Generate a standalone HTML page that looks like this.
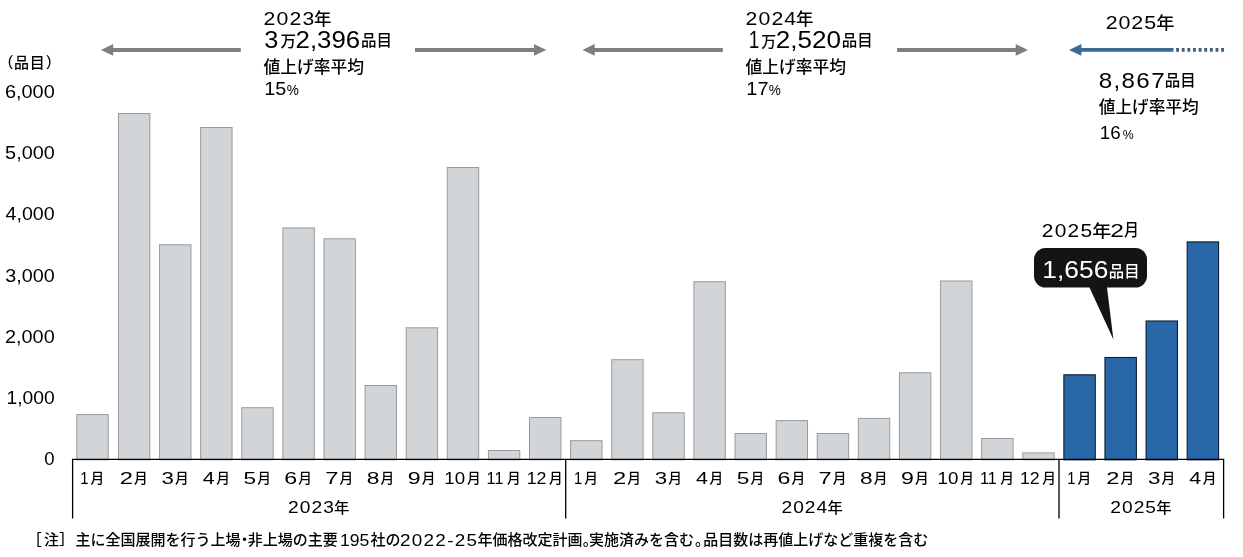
<!DOCTYPE html>
<html lang="ja"><head><meta charset="utf-8"><title>食品値上げ品目数</title>
<style>
html,body{margin:0;padding:0;background:#fff}
body{width:1243px;height:557px;overflow:hidden;font-family:'Liberation Sans','Noto Sans CJK JP',sans-serif}
svg{display:block}
text{white-space:pre}
</style></head><body>
<svg width="1243" height="557" viewBox="0 0 1243 557">
<rect width="1243" height="557" fill="#fff"/>
<rect x="76.80" y="414.60" width="31.40" height="45.25" fill="#d2d5d8" stroke="#97999c" stroke-width="1"/>
<rect x="118.45" y="113.50" width="31.40" height="346.35" fill="#d2d5d8" stroke="#97999c" stroke-width="1"/>
<rect x="159.56" y="244.80" width="31.40" height="215.05" fill="#d2d5d8" stroke="#97999c" stroke-width="1"/>
<rect x="200.66" y="127.50" width="31.40" height="332.35" fill="#d2d5d8" stroke="#97999c" stroke-width="1"/>
<rect x="241.77" y="407.70" width="31.40" height="52.15" fill="#d2d5d8" stroke="#97999c" stroke-width="1"/>
<rect x="282.88" y="227.90" width="31.40" height="231.95" fill="#d2d5d8" stroke="#97999c" stroke-width="1"/>
<rect x="323.98" y="238.80" width="31.40" height="221.05" fill="#d2d5d8" stroke="#97999c" stroke-width="1"/>
<rect x="365.08" y="385.50" width="31.40" height="74.35" fill="#d2d5d8" stroke="#97999c" stroke-width="1"/>
<rect x="406.19" y="327.80" width="31.40" height="132.05" fill="#d2d5d8" stroke="#97999c" stroke-width="1"/>
<rect x="447.29" y="167.50" width="31.40" height="292.35" fill="#d2d5d8" stroke="#97999c" stroke-width="1"/>
<rect x="488.40" y="450.50" width="31.40" height="9.35" fill="#d2d5d8" stroke="#97999c" stroke-width="1"/>
<rect x="529.50" y="417.50" width="31.40" height="42.35" fill="#d2d5d8" stroke="#97999c" stroke-width="1"/>
<rect x="570.61" y="440.70" width="31.40" height="19.15" fill="#d2d5d8" stroke="#97999c" stroke-width="1"/>
<rect x="611.72" y="359.70" width="31.40" height="100.15" fill="#d2d5d8" stroke="#97999c" stroke-width="1"/>
<rect x="652.82" y="412.80" width="31.40" height="47.05" fill="#d2d5d8" stroke="#97999c" stroke-width="1"/>
<rect x="693.92" y="281.70" width="31.40" height="178.15" fill="#d2d5d8" stroke="#97999c" stroke-width="1"/>
<rect x="735.03" y="433.50" width="31.40" height="26.35" fill="#d2d5d8" stroke="#97999c" stroke-width="1"/>
<rect x="776.13" y="420.60" width="31.40" height="39.25" fill="#d2d5d8" stroke="#97999c" stroke-width="1"/>
<rect x="817.24" y="433.50" width="31.40" height="26.35" fill="#d2d5d8" stroke="#97999c" stroke-width="1"/>
<rect x="858.34" y="418.40" width="31.40" height="41.45" fill="#d2d5d8" stroke="#97999c" stroke-width="1"/>
<rect x="899.45" y="372.80" width="31.40" height="87.05" fill="#d2d5d8" stroke="#97999c" stroke-width="1"/>
<rect x="940.55" y="281.00" width="31.40" height="178.85" fill="#d2d5d8" stroke="#97999c" stroke-width="1"/>
<rect x="981.66" y="438.50" width="31.40" height="21.35" fill="#d2d5d8" stroke="#97999c" stroke-width="1"/>
<rect x="1022.76" y="452.90" width="31.40" height="6.95" fill="#d2d5d8" stroke="#97999c" stroke-width="1"/>
<rect x="1063.87" y="374.80" width="31.40" height="85.05" fill="#2968a8" stroke="#0d1c30" stroke-width="1.1"/>
<rect x="1104.97" y="357.50" width="31.40" height="102.35" fill="#2968a8" stroke="#0d1c30" stroke-width="1.1"/>
<rect x="1146.08" y="321.00" width="31.40" height="138.85" fill="#2968a8" stroke="#0d1c30" stroke-width="1.1"/>
<rect x="1187.18" y="241.90" width="31.40" height="217.95" fill="#2968a8" stroke="#0d1c30" stroke-width="1.1"/>
<path d="M72.6 518.5V459.35H1223.6V518.5M565.7 459.35V518.5M1059 459.35V518.5" fill="none" stroke="#000" stroke-width="1.3"/>
<text transform="matrix(1.1059 0 0 1 4.90 97.60)" font-size="18.00" fill="#000" font-family="'Liberation Sans','Noto Sans CJK JP',sans-serif" font-weight="normal">6,000</text>
<text transform="matrix(1.1014 0 0 1 5.11 158.90)" font-size="18.00" fill="#000" font-family="'Liberation Sans','Noto Sans CJK JP',sans-serif" font-weight="normal">5,000</text>
<text transform="matrix(1.0924 0 0 1 5.51 220.20)" font-size="18.00" fill="#000" font-family="'Liberation Sans','Noto Sans CJK JP',sans-serif" font-weight="normal">4,000</text>
<text transform="matrix(1.0968 0 0 1 5.31 281.50)" font-size="18.00" fill="#000" font-family="'Liberation Sans','Noto Sans CJK JP',sans-serif" font-weight="normal">3,000</text>
<text transform="matrix(1.1059 0 0 1 4.90 342.80)" font-size="18.00" fill="#000" font-family="'Liberation Sans','Noto Sans CJK JP',sans-serif" font-weight="normal">2,000</text>
<text transform="matrix(1.0711 0 0 1 6.45 404.10)" font-size="18.00" fill="#000" font-family="'Liberation Sans','Noto Sans CJK JP',sans-serif" font-weight="normal">1,000</text>
<text transform="matrix(1.0317 0 0 1 44.34 465.40)" font-size="18.00" fill="#000" font-family="'Liberation Sans','Noto Sans CJK JP',sans-serif" font-weight="normal">0</text>
<text y="67.60" font-size="15.0" fill="#000" font-weight="500" font-family="'Liberation Sans','Noto Sans CJK JP',sans-serif"><tspan x="-1.60">（</tspan><tspan x="14.05">品</tspan><tspan x="29.75">目</tspan><tspan x="45.70">）</tspan></text>
<text transform="matrix(0.8566 0 0 1 80.22 484.10)" font-size="17.25" fill="#000" font-family="'Liberation Sans','Noto Sans CJK JP',sans-serif" font-weight="normal">1</text>
<text transform="matrix(0.9867 0 0 1 90.38 482.91)" font-size="13.89" fill="#000" font-family="'Liberation Sans','Noto Sans CJK JP',sans-serif" font-weight="500">月</text>
<text transform="matrix(1.3939 0 0 1 119.82 484.10)" font-size="17.00" fill="#000" font-family="'Liberation Sans','Noto Sans CJK JP',sans-serif" font-weight="normal">2</text>
<text transform="matrix(0.9867 0 0 1 133.93 482.91)" font-size="13.89" fill="#000" font-family="'Liberation Sans','Noto Sans CJK JP',sans-serif" font-weight="500">月</text>
<text transform="matrix(1.3085 0 0 1 161.44 484.10)" font-size="17.00" fill="#000" font-family="'Liberation Sans','Noto Sans CJK JP',sans-serif" font-weight="normal">3</text>
<text transform="matrix(0.9867 0 0 1 175.04 482.91)" font-size="13.89" fill="#000" font-family="'Liberation Sans','Noto Sans CJK JP',sans-serif" font-weight="500">月</text>
<text transform="matrix(1.2572 0 0 1 202.79 484.10)" font-size="17.00" fill="#000" font-family="'Liberation Sans','Noto Sans CJK JP',sans-serif" font-weight="normal">4</text>
<text transform="matrix(0.9867 0 0 1 216.14 482.91)" font-size="13.89" fill="#000" font-family="'Liberation Sans','Noto Sans CJK JP',sans-serif" font-weight="500">月</text>
<text transform="matrix(1.3167 0 0 1 243.41 484.10)" font-size="17.25" fill="#000" font-family="'Liberation Sans','Noto Sans CJK JP',sans-serif" font-weight="normal">5</text>
<text transform="matrix(0.9867 0 0 1 257.25 482.91)" font-size="13.89" fill="#000" font-family="'Liberation Sans','Noto Sans CJK JP',sans-serif" font-weight="500">月</text>
<text transform="matrix(1.3642 0 0 1 284.27 484.10)" font-size="17.00" fill="#000" font-family="'Liberation Sans','Noto Sans CJK JP',sans-serif" font-weight="normal">6</text>
<text transform="matrix(0.9867 0 0 1 298.35 482.91)" font-size="13.89" fill="#000" font-family="'Liberation Sans','Noto Sans CJK JP',sans-serif" font-weight="500">月</text>
<text transform="matrix(1.3939 0 0 1 325.35 484.10)" font-size="17.00" fill="#000" font-family="'Liberation Sans','Noto Sans CJK JP',sans-serif" font-weight="normal">7</text>
<text transform="matrix(0.9867 0 0 1 339.46 482.91)" font-size="13.89" fill="#000" font-family="'Liberation Sans','Noto Sans CJK JP',sans-serif" font-weight="500">月</text>
<text transform="matrix(1.3358 0 0 1 366.73 484.10)" font-size="17.00" fill="#000" font-family="'Liberation Sans','Noto Sans CJK JP',sans-serif" font-weight="normal">8</text>
<text transform="matrix(0.9867 0 0 1 380.56 482.91)" font-size="13.89" fill="#000" font-family="'Liberation Sans','Noto Sans CJK JP',sans-serif" font-weight="500">月</text>
<text transform="matrix(1.3642 0 0 1 407.81 484.10)" font-size="17.00" fill="#000" font-family="'Liberation Sans','Noto Sans CJK JP',sans-serif" font-weight="normal">9</text>
<text transform="matrix(0.9867 0 0 1 421.67 482.91)" font-size="13.89" fill="#000" font-family="'Liberation Sans','Noto Sans CJK JP',sans-serif" font-weight="500">月</text>
<text transform="matrix(1.0991 0 0 1 444.34 484.10)" font-size="17.00" fill="#000" font-family="'Liberation Sans','Noto Sans CJK JP',sans-serif" font-weight="normal">10</text>
<text transform="matrix(0.9867 0 0 1 466.97 482.91)" font-size="13.89" fill="#000" font-family="'Liberation Sans','Noto Sans CJK JP',sans-serif" font-weight="500">月</text>
<text transform="matrix(0.9371 0 0 1 486.62 484.10)" font-size="17.25" fill="#000" font-family="'Liberation Sans','Noto Sans CJK JP',sans-serif" font-weight="normal">11</text>
<text transform="matrix(0.9867 0 0 1 507.08 482.91)" font-size="13.89" fill="#000" font-family="'Liberation Sans','Noto Sans CJK JP',sans-serif" font-weight="500">月</text>
<text transform="matrix(1.0452 0 0 1 526.71 484.10)" font-size="17.00" fill="#000" font-family="'Liberation Sans','Noto Sans CJK JP',sans-serif" font-weight="normal">12</text>
<text transform="matrix(0.9867 0 0 1 549.08 482.91)" font-size="13.89" fill="#000" font-family="'Liberation Sans','Noto Sans CJK JP',sans-serif" font-weight="500">月</text>
<text transform="matrix(0.8566 0 0 1 574.03 484.10)" font-size="17.25" fill="#000" font-family="'Liberation Sans','Noto Sans CJK JP',sans-serif" font-weight="normal">1</text>
<text transform="matrix(0.9867 0 0 1 584.19 482.91)" font-size="13.89" fill="#000" font-family="'Liberation Sans','Noto Sans CJK JP',sans-serif" font-weight="500">月</text>
<text transform="matrix(1.3939 0 0 1 613.08 484.10)" font-size="17.00" fill="#000" font-family="'Liberation Sans','Noto Sans CJK JP',sans-serif" font-weight="normal">2</text>
<text transform="matrix(0.9867 0 0 1 627.19 482.91)" font-size="13.89" fill="#000" font-family="'Liberation Sans','Noto Sans CJK JP',sans-serif" font-weight="500">月</text>
<text transform="matrix(1.3085 0 0 1 654.70 484.10)" font-size="17.00" fill="#000" font-family="'Liberation Sans','Noto Sans CJK JP',sans-serif" font-weight="normal">3</text>
<text transform="matrix(0.9867 0 0 1 668.30 482.91)" font-size="13.89" fill="#000" font-family="'Liberation Sans','Noto Sans CJK JP',sans-serif" font-weight="500">月</text>
<text transform="matrix(1.2572 0 0 1 696.05 484.10)" font-size="17.00" fill="#000" font-family="'Liberation Sans','Noto Sans CJK JP',sans-serif" font-weight="normal">4</text>
<text transform="matrix(0.9867 0 0 1 709.40 482.91)" font-size="13.89" fill="#000" font-family="'Liberation Sans','Noto Sans CJK JP',sans-serif" font-weight="500">月</text>
<text transform="matrix(1.3167 0 0 1 736.67 484.10)" font-size="17.25" fill="#000" font-family="'Liberation Sans','Noto Sans CJK JP',sans-serif" font-weight="normal">5</text>
<text transform="matrix(0.9867 0 0 1 750.51 482.91)" font-size="13.89" fill="#000" font-family="'Liberation Sans','Noto Sans CJK JP',sans-serif" font-weight="500">月</text>
<text transform="matrix(1.3642 0 0 1 777.53 484.10)" font-size="17.00" fill="#000" font-family="'Liberation Sans','Noto Sans CJK JP',sans-serif" font-weight="normal">6</text>
<text transform="matrix(0.9867 0 0 1 791.61 482.91)" font-size="13.89" fill="#000" font-family="'Liberation Sans','Noto Sans CJK JP',sans-serif" font-weight="500">月</text>
<text transform="matrix(1.3939 0 0 1 818.61 484.10)" font-size="17.00" fill="#000" font-family="'Liberation Sans','Noto Sans CJK JP',sans-serif" font-weight="normal">7</text>
<text transform="matrix(0.9867 0 0 1 832.72 482.91)" font-size="13.89" fill="#000" font-family="'Liberation Sans','Noto Sans CJK JP',sans-serif" font-weight="500">月</text>
<text transform="matrix(1.3358 0 0 1 859.99 484.10)" font-size="17.00" fill="#000" font-family="'Liberation Sans','Noto Sans CJK JP',sans-serif" font-weight="normal">8</text>
<text transform="matrix(0.9867 0 0 1 873.82 482.91)" font-size="13.89" fill="#000" font-family="'Liberation Sans','Noto Sans CJK JP',sans-serif" font-weight="500">月</text>
<text transform="matrix(1.3642 0 0 1 901.07 484.10)" font-size="17.00" fill="#000" font-family="'Liberation Sans','Noto Sans CJK JP',sans-serif" font-weight="normal">9</text>
<text transform="matrix(0.9867 0 0 1 914.93 482.91)" font-size="13.89" fill="#000" font-family="'Liberation Sans','Noto Sans CJK JP',sans-serif" font-weight="500">月</text>
<text transform="matrix(1.0991 0 0 1 937.60 484.10)" font-size="17.00" fill="#000" font-family="'Liberation Sans','Noto Sans CJK JP',sans-serif" font-weight="normal">10</text>
<text transform="matrix(0.9867 0 0 1 960.23 482.91)" font-size="13.89" fill="#000" font-family="'Liberation Sans','Noto Sans CJK JP',sans-serif" font-weight="500">月</text>
<text transform="matrix(0.9371 0 0 1 979.88 484.10)" font-size="17.25" fill="#000" font-family="'Liberation Sans','Noto Sans CJK JP',sans-serif" font-weight="normal">11</text>
<text transform="matrix(0.9867 0 0 1 1000.34 482.91)" font-size="13.89" fill="#000" font-family="'Liberation Sans','Noto Sans CJK JP',sans-serif" font-weight="500">月</text>
<text transform="matrix(1.0452 0 0 1 1019.97 484.10)" font-size="17.00" fill="#000" font-family="'Liberation Sans','Noto Sans CJK JP',sans-serif" font-weight="normal">12</text>
<text transform="matrix(0.9867 0 0 1 1042.34 482.91)" font-size="13.89" fill="#000" font-family="'Liberation Sans','Noto Sans CJK JP',sans-serif" font-weight="500">月</text>
<text transform="matrix(0.8566 0 0 1 1067.29 484.10)" font-size="17.25" fill="#000" font-family="'Liberation Sans','Noto Sans CJK JP',sans-serif" font-weight="normal">1</text>
<text transform="matrix(0.9867 0 0 1 1077.45 482.91)" font-size="13.89" fill="#000" font-family="'Liberation Sans','Noto Sans CJK JP',sans-serif" font-weight="500">月</text>
<text transform="matrix(1.3939 0 0 1 1106.34 484.10)" font-size="17.00" fill="#000" font-family="'Liberation Sans','Noto Sans CJK JP',sans-serif" font-weight="normal">2</text>
<text transform="matrix(0.9867 0 0 1 1120.45 482.91)" font-size="13.89" fill="#000" font-family="'Liberation Sans','Noto Sans CJK JP',sans-serif" font-weight="500">月</text>
<text transform="matrix(1.3085 0 0 1 1147.96 484.10)" font-size="17.00" fill="#000" font-family="'Liberation Sans','Noto Sans CJK JP',sans-serif" font-weight="normal">3</text>
<text transform="matrix(0.9867 0 0 1 1161.56 482.91)" font-size="13.89" fill="#000" font-family="'Liberation Sans','Noto Sans CJK JP',sans-serif" font-weight="500">月</text>
<text transform="matrix(1.2572 0 0 1 1189.31 484.10)" font-size="17.00" fill="#000" font-family="'Liberation Sans','Noto Sans CJK JP',sans-serif" font-weight="normal">4</text>
<text transform="matrix(0.9867 0 0 1 1202.66 482.91)" font-size="13.89" fill="#000" font-family="'Liberation Sans','Noto Sans CJK JP',sans-serif" font-weight="500">月</text>
<text transform="matrix(1.1200 0 0 1 288.04 513.40)" font-size="17.14" letter-spacing="0.935" fill="#000" font-family="'Liberation Sans','Noto Sans CJK JP',sans-serif" font-weight="normal">2023</text>
<text transform="matrix(1.0551 0 0 1 333.99 512.69)" font-size="14.53" fill="#000" font-family="'Liberation Sans','Noto Sans CJK JP',sans-serif" font-weight="500">年</text>
<text transform="matrix(1.1200 0 0 1 781.49 513.40)" font-size="17.14" letter-spacing="0.878" fill="#000" font-family="'Liberation Sans','Noto Sans CJK JP',sans-serif" font-weight="normal">2024</text>
<text transform="matrix(1.0551 0 0 1 827.44 512.69)" font-size="14.53" fill="#000" font-family="'Liberation Sans','Noto Sans CJK JP',sans-serif" font-weight="500">年</text>
<text transform="matrix(1.1200 0 0 1 1110.19 513.40)" font-size="17.14" letter-spacing="0.935" fill="#000" font-family="'Liberation Sans','Noto Sans CJK JP',sans-serif" font-weight="normal">2025</text>
<text transform="matrix(1.0551 0 0 1 1156.14 512.69)" font-size="14.53" fill="#000" font-family="'Liberation Sans','Noto Sans CJK JP',sans-serif" font-weight="500">年</text>
<path d="M240.8 48.0H113.2V44.050000000000004L100.9 49.95L113.2 55.85V51.900000000000006H240.8Z" fill="#7f7f7f"/>
<path d="M415.0 48.0H534.0V44.050000000000004L546.3 49.95L534.0 55.85V51.900000000000006H415.0Z" fill="#7f7f7f"/>
<path d="M722.8 48.0H594.6999999999999V44.050000000000004L582.4 49.95L594.6999999999999 55.85V51.900000000000006H722.8Z" fill="#7f7f7f"/>
<path d="M897.1 48.0H1015.7V44.050000000000004L1028.0 49.95L1015.7 55.85V51.900000000000006H897.1Z" fill="#7f7f7f"/>
<path d="M1173.5 47.949999999999996H1081.3999999999999V44.0L1069.1 49.9L1081.3999999999999 55.8V51.85H1173.5Z" fill="#3c6a92"/>
<path d="M1176.1 49.9H1225" stroke="#465f76" stroke-width="3.7" stroke-dasharray="2.9 2.73" fill="none"/>
<text transform="matrix(1.1200 0 0 1 263.54 25.30)" font-size="19.00" letter-spacing="1.040" fill="#000" font-family="'Liberation Sans','Noto Sans CJK JP',sans-serif" font-weight="normal">2023</text>
<text transform="matrix(1.0523 0 0 1 314.00 25.01)" font-size="16.53" fill="#000" font-family="'Liberation Sans','Noto Sans CJK JP',sans-serif" font-weight="500">年</text>
<text transform="matrix(1.0736 0 0 1 264.34 47.80)" font-size="23.57" fill="#000" font-family="'Liberation Sans','Noto Sans CJK JP',sans-serif" font-weight="normal">3</text>
<text x="280.39" y="46.60" font-size="15.54" fill="#000" font-family="'Liberation Sans','Noto Sans CJK JP',sans-serif" font-weight="500">万</text>
<text transform="matrix(1.0938 0 0 1 295.61 47.80)" font-size="23.57" fill="#000" font-family="'Liberation Sans','Noto Sans CJK JP',sans-serif" font-weight="normal">2,396</text>
<text x="360.91" y="46.45" font-size="15.51" fill="#000" font-family="'Liberation Sans','Noto Sans CJK JP',sans-serif" font-weight="500">品目</text>
<text x="263.43" y="73.32" font-size="16.77" fill="#000" font-family="'Liberation Sans','Noto Sans CJK JP',sans-serif" font-weight="500">値上げ率平均</text>
<text transform="matrix(1.0418 0 0 1 264.32 95.00)" font-size="18.99" fill="#000" font-family="'Liberation Sans','Noto Sans CJK JP',sans-serif" font-weight="normal">15</text>
<text transform="matrix(0.9927 0 0 1 286.69 95.00)" font-size="13.71" fill="#000" font-family="'Liberation Sans','Noto Sans CJK JP',sans-serif" font-weight="normal">%</text>
<text transform="matrix(1.1200 0 0 1 745.54 25.30)" font-size="19.00" letter-spacing="0.976" fill="#000" font-family="'Liberation Sans','Noto Sans CJK JP',sans-serif" font-weight="normal">2024</text>
<text transform="matrix(1.0523 0 0 1 796.00 25.01)" font-size="16.53" fill="#000" font-family="'Liberation Sans','Noto Sans CJK JP',sans-serif" font-weight="500">年</text>
<text transform="matrix(0.7983 0 0 1 748.66 47.80)" font-size="23.91" fill="#000" font-family="'Liberation Sans','Noto Sans CJK JP',sans-serif" font-weight="normal">1</text>
<text x="761.30" y="46.66" font-size="14.89" fill="#000" font-family="'Liberation Sans','Noto Sans CJK JP',sans-serif" font-weight="500">万</text>
<text transform="matrix(1.1061 0 0 1 775.70 47.80)" font-size="23.57" fill="#000" font-family="'Liberation Sans','Noto Sans CJK JP',sans-serif" font-weight="normal">2,520</text>
<text x="841.81" y="46.45" font-size="15.51" fill="#000" font-family="'Liberation Sans','Noto Sans CJK JP',sans-serif" font-weight="500">品目</text>
<text x="745.43" y="73.32" font-size="16.77" fill="#000" font-family="'Liberation Sans','Noto Sans CJK JP',sans-serif" font-weight="500">値上げ率平均</text>
<text transform="matrix(1.0675 0 0 1 746.30 95.00)" font-size="18.71" fill="#000" font-family="'Liberation Sans','Noto Sans CJK JP',sans-serif" font-weight="normal">17</text>
<text transform="matrix(0.9927 0 0 1 768.69 95.00)" font-size="13.71" fill="#000" font-family="'Liberation Sans','Noto Sans CJK JP',sans-serif" font-weight="normal">%</text>
<text transform="matrix(1.1200 0 0 1 1105.73 29.20)" font-size="19.14" letter-spacing="0.789" fill="#000" font-family="'Liberation Sans','Noto Sans CJK JP',sans-serif" font-weight="normal">2025</text>
<text transform="matrix(1.0709 0 0 1 1156.17 29.07)" font-size="17.05" fill="#000" font-family="'Liberation Sans','Noto Sans CJK JP',sans-serif" font-weight="500">年</text>
<text transform="matrix(1.1200 0 0 1 1098.73 87.80)" font-size="21.57" letter-spacing="1.210" fill="#000" font-family="'Liberation Sans','Noto Sans CJK JP',sans-serif" font-weight="normal">8,867</text>
<text x="1164.82" y="86.46" font-size="15.45" fill="#000" font-family="'Liberation Sans','Noto Sans CJK JP',sans-serif" font-weight="500">品目</text>
<text x="1098.73" y="113.03" font-size="16.68" fill="#000" font-family="'Liberation Sans','Noto Sans CJK JP',sans-serif" font-weight="500">値上げ率平均</text>
<text transform="matrix(0.9961 0 0 1 1099.69 139.20)" font-size="18.86" fill="#000" font-family="'Liberation Sans','Noto Sans CJK JP',sans-serif" font-weight="normal">16</text>
<text transform="matrix(0.9151 0 0 1 1122.73 139.20)" font-size="13.43" fill="#000" font-family="'Liberation Sans','Noto Sans CJK JP',sans-serif" font-weight="normal">%</text>
<text transform="matrix(1.1200 0 0 1 1041.75 236.80)" font-size="18.71" letter-spacing="1.095" fill="#000" font-family="'Liberation Sans','Noto Sans CJK JP',sans-serif" font-weight="normal">2025</text>
<text transform="matrix(1.1224 0 0 1 1092.14 236.77)" font-size="16.95" fill="#000" font-family="'Liberation Sans','Noto Sans CJK JP',sans-serif" font-weight="500">年</text>
<text transform="matrix(1.3126 0 0 1 1110.27 236.80)" font-size="18.71" fill="#000" font-family="'Liberation Sans','Noto Sans CJK JP',sans-serif" font-weight="normal">2</text>
<text transform="matrix(0.8674 0 0 1 1124.10 236.28)" font-size="17.22" fill="#000" font-family="'Liberation Sans','Noto Sans CJK JP',sans-serif" font-weight="500">月</text>
<path d="M1045.5 248H1135.5A11.5 11.5 0 0 1 1147 259.5V276A11.5 11.5 0 0 1 1135.5 287.5H1107L1113.4 339.5L1089.5 287.5H1045.5A11.5 11.5 0 0 1 1034 276V259.5A11.5 11.5 0 0 1 1045.5 248Z" fill="#141414"/>
<text transform="matrix(1.0751 0 0 1 1042.25 278.00)" font-size="24.57" fill="#fff" font-family="'Liberation Sans','Noto Sans CJK JP',sans-serif" font-weight="normal">1,656</text>
<text x="1108.82" y="276.66" font-size="15.39" fill="#fff" font-family="'Liberation Sans','Noto Sans CJK JP',sans-serif" font-weight="500">品目</text>
<text y="545.30" font-size="15.0" fill="#000" font-weight="500" font-family="'Liberation Sans','Noto Sans CJK JP',sans-serif"><tspan x="26.75">［</tspan><tspan x="43.95">注</tspan><tspan x="59.15">］</tspan><tspan x="75.45">主に全国展開を行う上場</tspan><tspan x="236.90">・</tspan><tspan x="247.75">非上場の主要</tspan><tspan x="370.45">社の</tspan><tspan x="477.60">年価格改定計画</tspan><tspan x="582.75">。</tspan><tspan x="589.00">実施済みを含む</tspan><tspan x="694.95">。</tspan><tspan x="703.35">品目数は再値上げなど重複を含む</tspan></text>
<text transform="matrix(1.0442 0 0 1 339.97 545.50)" font-size="16.86" fill="#000" font-family="'Liberation Sans','Noto Sans CJK JP',sans-serif" font-weight="normal">195</text>
<text transform="matrix(1.1200 0 0 1 400.06 545.50)" font-size="16.86" letter-spacing="1.137" fill="#000" font-family="'Liberation Sans','Noto Sans CJK JP',sans-serif" font-weight="normal">2022-25</text>
</svg>
</body></html>
